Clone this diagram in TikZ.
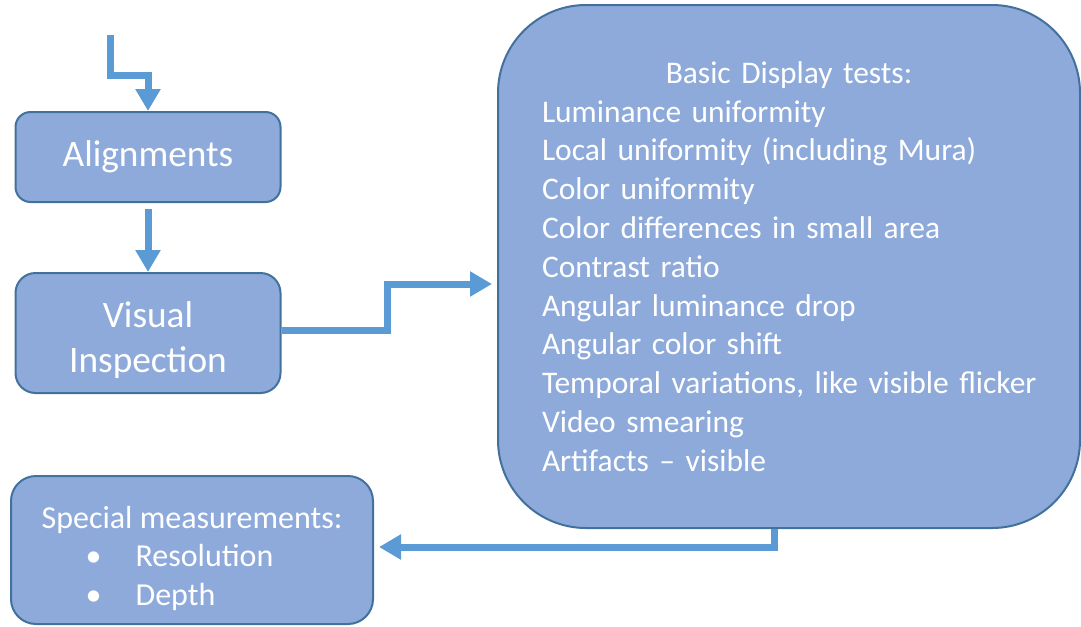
\documentclass[tikz,border=0pt]{standalone}
\usepackage{fontspec}
\setmainfont{Carlito}
\usetikzlibrary{arrows.meta,positioning}

\newlength\px
\setlength\px{0.75pt}
\definecolor{boxfill}{HTML}{8EAADB}
\definecolor{boxline}{HTML}{41719C}
\definecolor{flow}{HTML}{5B9BD5}

\tikzset{
  stagebox/.style={draw=boxline, fill=boxfill, line width=2\px, text=white,
    align=center, inner sep=0pt},
  conn/.style={draw=flow, line width=7\px,
    -{Triangle[length=16.5pt,width=18pt]}},
}

\begin{document}
\begin{tikzpicture}[x=0.75pt,y=-0.75pt]
    \useasboundingbox (0,0) rectangle (1081,626);

    % stages
    \node[stagebox, rounded corners=15\px, minimum width=265\px, minimum height=90\px,
      font=\fontsize{28}{33.75}\selectfont] (align) at (148,157) {Alignments};
    \node[stagebox, rounded corners=20\px, minimum width=265\px, minimum height=120\px,
      text height=64pt, font=\fontsize{28}{33.75}\selectfont] (visual) at (148,333) {Visual\\Inspection};
    \node[stagebox, rounded corners=88\px, minimum width=582\px, minimum height=523\px,
      text width=494\px, align=left, font=\fontsize{23.6}{29.1}\selectfont] (basic) at (789,266.5)
      {\makebox[\linewidth][c]{Basic Display tests:}\\
       Luminance uniformity\\
       Local uniformity (including Mura)\\
       Color uniformity\\
       Color differences in small area\\
       Contrast ratio\\
       Angular luminance drop\\
       Angular color shift\\
       \mbox{Temporal variations, like visible flicker}\\
       Video smearing\\
       Artifacts -- visible};
    \node[stagebox, rounded corners=25\px, minimum width=362\px, minimum height=148\px,
      align=left, text height=87pt, font=\fontsize{24}{29}\selectfont] (special) at (192,550)
      {Special measurements:\\
       \hspace*{44\px}\makebox[50\px][l]{\textbullet}Resolution\\
       \hspace*{44\px}\makebox[50\px][l]{\textbullet}Depth};

    % connectors
    \coordinate (feed) at (110,35);
    \coordinate (feedbend) at (148,75);
    \coordinate (stepup) at (387,284);
    \coordinate (stepdown) at (774,547);
    \draw[conn] (feed) |- (feedbend) -- (align.north);
    \draw[conn, shorten <=6\px] (align.south) -- (visual.north);
    \draw[conn, shorten >=5\px] ([yshift=3\px]visual.east) -| (stepup) -- (stepup -| basic.west);
    \draw[conn, shorten >=5\px] (basic.south -| stepdown) |- (stepdown -| special.east);
\end{tikzpicture}
\end{document}
